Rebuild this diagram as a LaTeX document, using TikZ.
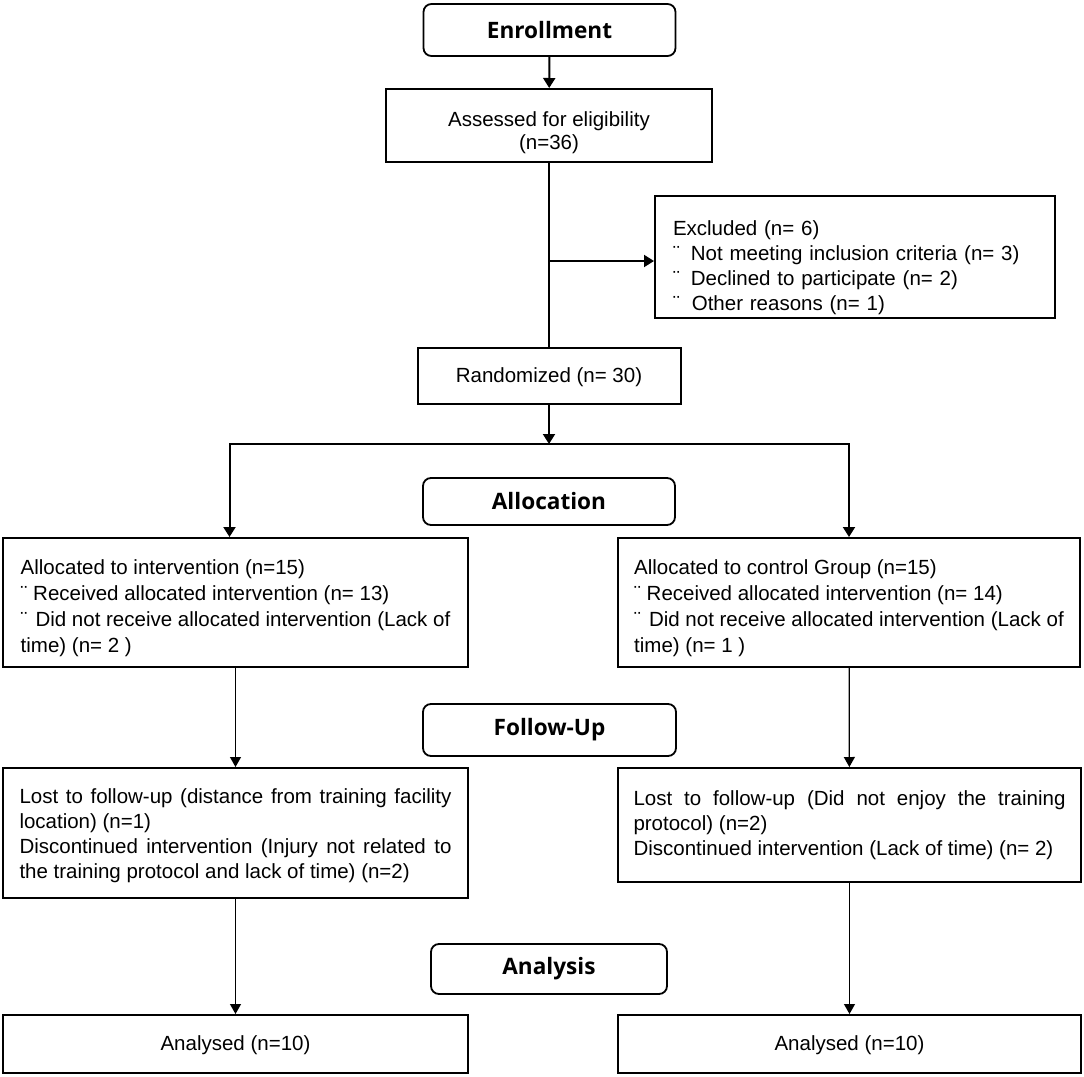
\documentclass[tikz,border=0pt]{standalone}
\usepackage{fontspec}
\setmainfont{Liberation Sans}
\newfontfamily\headfont{Open Sans}
\usetikzlibrary{arrows.meta}
\hyphenpenalty=10000
\exhyphenpenalty=10000
\newcommand{\topgap}[1]{\rule{0pt}{#1}}
\begin{document}
\begin{tikzpicture}[x = 0.5pt, y = -0.5pt, >={Triangle[width=6pt, length=5pt]},
    box/.style = {draw, line width = 1pt, inner sep = 0pt, font = \fontsize{10.25}{12.5}\selectfont},
    head/.style = {draw, line width = 0.9pt, rounded corners = 4pt, inner sep = 0pt, font = \headfont\bfseries\fontsize{11.3}{13}\selectfont},
    group/.style = {box, minimum width = 232.5pt, minimum height = 64.5pt, align = left, font = \fontsize{10.25}{13}\selectfont},
    lost/.style = {box, minimum width = 232.5pt, text width = 216pt, align = justify},
    thin/.style = {line width = 0.6pt, >={Triangle[width=5.5pt, length=5pt]}}]
    \useasboundingbox (0, 0) rectangle (1084, 1077);
    \node [head, minimum width = 126pt, minimum height = 26pt] (enroll) at (549.5, 30) {Enrollment};
    \node [box, minimum width = 163pt, minimum height = 36.5pt, align = center, font = \fontsize{10.25}{11.5}\selectfont] (assess) at (549, 125.5) {\topgap{14.5pt}Assessed for eligibility\\(n=36)};
    \node [box, minimum width = 200pt, minimum height = 61pt, text width = 182pt, align = left] (excl) at (855, 257) {\topgap{18pt}Excluded (n= 6)\\¨\hspace{5.5pt}Not meeting inclusion criteria (n= 3)\\¨\hspace{5.5pt}Declined to participate (n= 2)\\¨\hspace{6pt}Other reasons (n= 1)};
    \node [box, minimum width = 131.5pt, minimum height = 28pt] (random) at (549, 376) {\topgap{9pt}Randomized (n= 30)};
    \coordinate (split) at (549, 444);
    \node [head, minimum width = 126pt, minimum height = 23.5pt] (alloc) at (549, 501.5) {Allocation};
    \node [group] (allocI) at (235.5, 602.5) {\topgap{13pt}Allocated to intervention (n=15)\\¨ Received allocated intervention (n= 13)\\¨\hspace{4pt}Did not receive allocated intervention (Lack of\\time) (n= 2 )};
    \node [group, minimum width = 231pt] (allocC) at (849, 602.5) {\topgap{13pt}Allocated to control Group (n=15)\\¨ Received allocated intervention (n= 14)\\¨\hspace{4pt}Did not receive allocated intervention (Lack of\\time) (n= 1 )};
    \node [head, minimum width = 126.5pt, minimum height = 26pt] (follow) at (549.5, 730) {Follow-Up};
    \node [lost, minimum height = 65pt] (lostI) at (235.5, 833) {\topgap{10.5pt}Lost to follow-up (distance from training facility\linebreak location) (n=1)\\Discontinued intervention (Injury not related to\linebreak the training protocol and lack of time) (n=2)};
    \node [lost, minimum width = 231.5pt, minimum height = 57pt] (lostC) at (849.5, 825) {Lost to follow-up (Did not enjoy the training\linebreak protocol) (n=2)\\Discontinued intervention (Lack of time) (n= 2)};
    \node [head, minimum width = 118pt, minimum height = 25pt] (analysis) at (549, 969) {Analysis};
    \node [box, minimum width = 232.5pt, minimum height = 29pt] (anaI) at (235.5, 1044) {\topgap{9pt}Analysed (n=10)};
    \node [box, minimum width = 231.5pt, minimum height = 29pt] (anaC) at (849.5, 1044) {\topgap{9pt}Analysed (n=10)};
    \draw [->, line width = 1pt] (enroll) -- (assess);
    \draw [line width = 1pt] (assess) -- (random);
    \draw [->, line width = 1pt] ([yshift = -2pt] assess.south |- excl.west) -- ([yshift = -2pt] excl.west);
    \draw [->, line width = 1pt] (random) -- (split);
    \draw [->, line width = 1pt] (split) -| ([xshift = -3pt] allocI.north);
    \draw [->, line width = 1pt] (split) -| (allocC.north);
    \draw [thin, ->] (allocI) -- (lostI);
    \draw [thin, ->] (allocC) -- (lostC);
    \draw [thin, ->] (lostI) -- (anaI);
    \draw [thin, ->] (lostC) -- (anaC);
\end{tikzpicture}
\end{document}
